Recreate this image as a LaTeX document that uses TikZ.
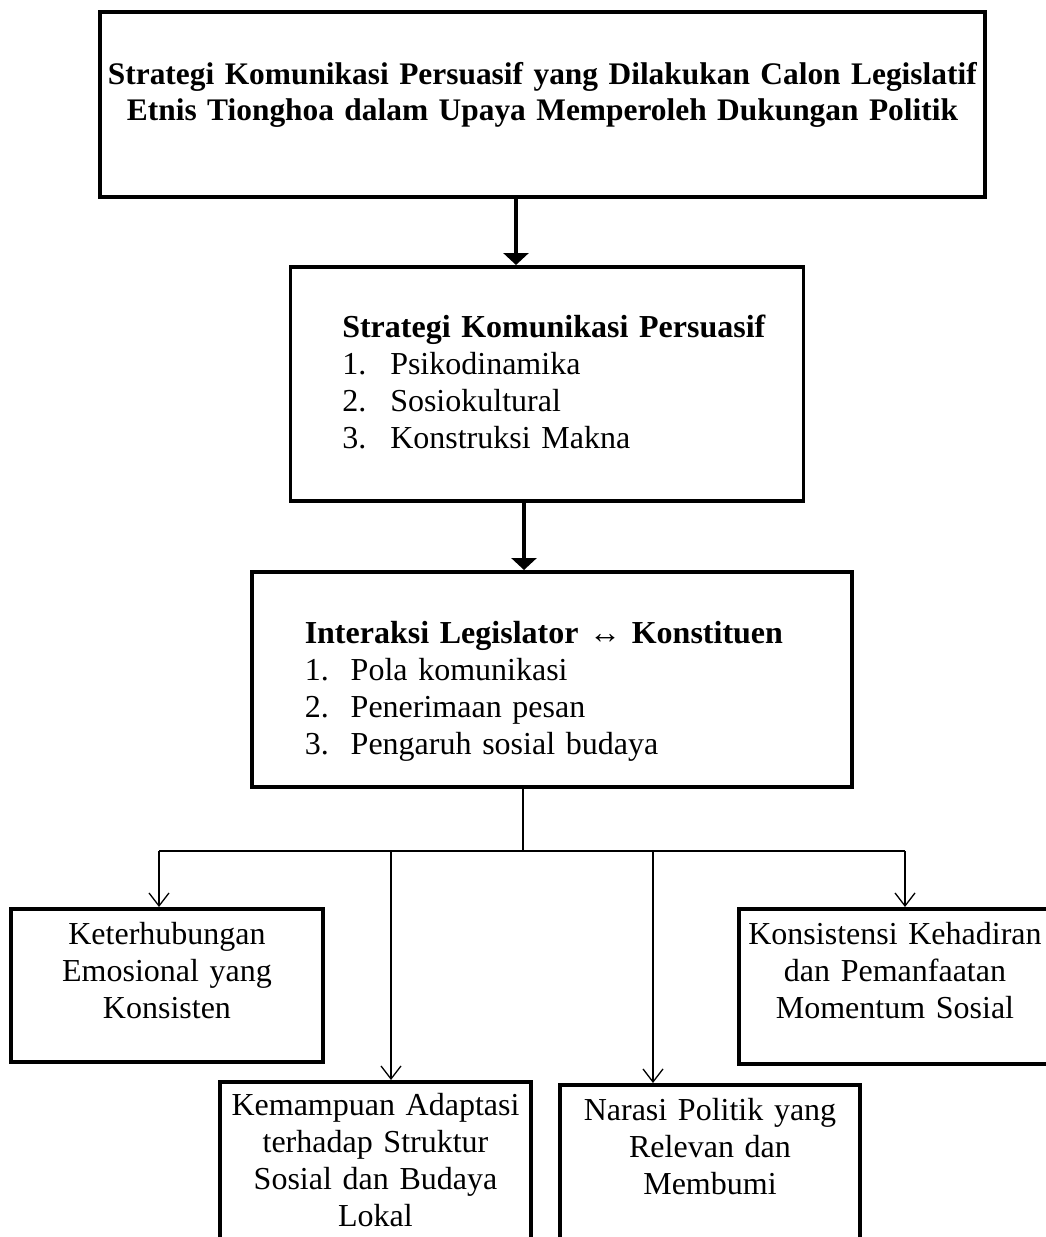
\documentclass[tikz,border=0pt]{standalone}
\usepackage{fontspec}
\setmainfont{Liberation Serif}
\usepackage{tikz}
\usetikzlibrary{
    calc,
    arrows.meta
}
\tikzset{
    kotak/.style={draw, line width=3.5pt, inner sep=0pt, font=\fontsize{32}{37}\selectfont},
    tengah/.style={kotak, anchor=north, align=center},
    daftar/.style={kotak, anchor=north west, align=left},
    panah/.style={line width=3.5pt, -{Triangle[width=25pt,length=12pt]}},
    cabang/.style={line width=1.3pt, -{Straight Barb[width=20pt,length=13pt]}}
}
\newcommand{\butir}[3]{\makebox[#1][l]{#2}#3}

\begin{document}
\begin{tikzpicture}[x=1pt,y=1pt]
        \useasboundingbox (0,0) rectangle (1046,-1237);
        \clip (0,0) rectangle (1046,-1237);

        \draw (542.5,-10) node[tengah, font=\fontsize{31.4}{36}\selectfont, text width=885pt, text height=73pt, text depth=112pt](judul){%
            \mbox{\textbf{Strategi Komunikasi Persuasif yang Dilakukan Calon Legislatif}}\\
            \mbox{\textbf{Etnis Tionghoa dalam Upaya Memperoleh Dukungan Politik}}};
        \draw (288.5,-265) node[daftar, inner xsep=52pt, text width=409pt, text height=71pt, text depth=163pt](strat){%
            \mbox{\textbf{Strategi Komunikasi Persuasif}}\\
            \butir{48pt}{1.}{Psikodinamika}\\
            \butir{48pt}{2.}{Sosiokultural}\\
            \butir{48pt}{3.}{Konstruksi Makna}};
        \draw (250,-570) node[daftar, inner xsep=53pt, text width=494pt, text height=72pt, text depth=143pt](inter){%
            \mbox{\textbf{Interaksi Legislator ↔ Konstituen}}\\
            \butir{46pt}{1.}{Pola komunikasi}\\
            \butir{46pt}{2.}{Penerimaan pesan}\\
            \butir{46pt}{3.}{Pengaruh sosial budaya}};

        \draw (167,-907) node[tengah, text width=312pt, text height=36pt, text depth=117pt](emosi){Keterhubungan\\ Emosional yang\\ Konsisten};
        \draw (375.5,-1080) node[tengah, text width=311pt, text height=34pt, text depth=150pt](adapt){Kemampuan Adaptasi\\ terhadap Struktur\\ Sosial dan Budaya\\ Lokal};
        \draw (710,-1083) node[tengah, text width=300pt, text height=36pt, text depth=150pt](narasi){Narasi Politik yang\\ Relevan dan\\ Membumi};
        \draw (895,-907) node[tengah, text width=312pt, text height=36pt, text depth=119pt](momen){Konsistensi Kehadiran\\ dan Pemanfaatan\\ Momentum Sosial};

        \coordinate (p1) at (516,0);
        \coordinate (p2) at (524,0);
        \coordinate (j) at (523,-851);
        \coordinate (d1) at (159,-851);
        \coordinate (d2) at (391,-851);
        \coordinate (d3) at (653,-851);
        \coordinate (d4) at (905,-851);

        \draw[panah] (judul.south -| p1) to (strat.north -| p1);
        \draw[panah] (strat.south -| p2) to (inter.north -| p2);

        \draw[line width=1.3pt] (inter.south -| j) -- (j);
        \draw[line width=1.3pt] (d1) -- (d4);
        \draw[cabang] (d1) to (emosi.north -| d1);
        \draw[cabang] (d2) to (adapt.north -| d2);
        \draw[cabang] (d3) to (narasi.north -| d3);
        \draw[cabang] (d4) to (momen.north -| d4);
    \end{tikzpicture}
\end{document}
